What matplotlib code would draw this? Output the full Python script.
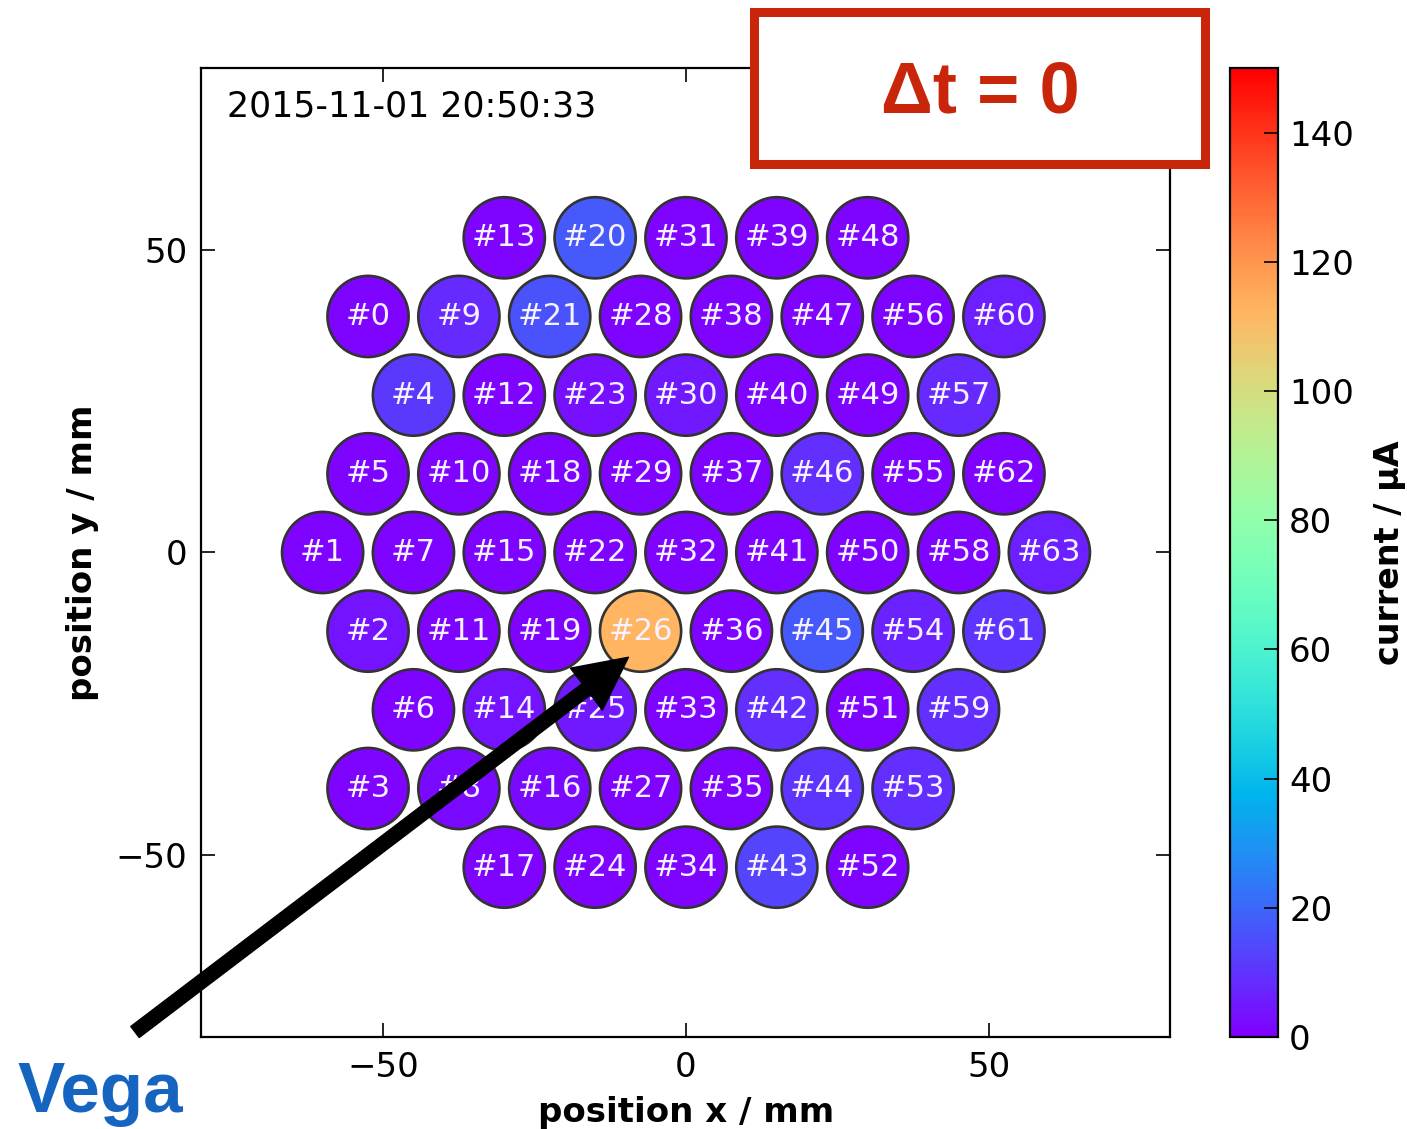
import numpy as np
import matplotlib
matplotlib.use('Agg')
import matplotlib.pyplot as plt
from matplotlib.patches import Circle, Rectangle
from matplotlib.collections import PatchCollection

# pixel ids per hexagon row, top row first
rows = [
    [13, 20, 31, 39, 48],
    [0, 9, 21, 28, 38, 47, 56, 60],
    [4, 12, 23, 30, 40, 49, 57],
    [5, 10, 18, 29, 37, 46, 55, 62],
    [1, 7, 15, 22, 32, 41, 50, 58, 63],
    [2, 11, 19, 26, 36, 45, 54, 61],
    [6, 14, 25, 33, 42, 51, 59],
    [3, 8, 16, 27, 35, 44, 53],
    [17, 24, 34, 43, 52],
]
row_shift = [-30, -52.5, -45, -52.5, -60, -52.5, -45, -52.5, -30]  # x of first pixel, mm

# anode current per pixel id 0..63, uA
current = [
    1, 1, 4, 1, 11, 1, 1, 1, 2, 8,
    1, 1, 1, 1, 4, 1, 2, 1, 1, 1,
    17, 16, 1, 3, 1, 5, 112, 1, 1, 1,
    5, 1, 1, 1, 1, 1, 1, 1, 1, 1,
    1, 1, 9, 13, 10, 17, 9, 1, 1, 1,
    1, 1, 1, 9, 7, 1, 1, 8, 1, 9,
    6, 10, 1, 6,
]

timestamp = '2015-11-01 20:50:33'
pitch = 15.0
r_pix = 6.7

fig = plt.figure(figsize=(14.07, 11.29), dpi=100)
ax = fig.add_axes([0.1428, 0.0815, 0.6895, 0.8583])
cax = fig.add_axes([0.8742, 0.0815, 0.0341, 0.8583])

ids, xs, ys = [], [], []
nrow = len(rows)
for i, row in enumerate(rows):
    y = (nrow // 2 - i) * pitch * np.sqrt(3) / 2
    for j, pid in enumerate(row):
        ids.append(pid)
        xs.append(row_shift[i] + j * pitch)
        ys.append(y)

circles = [Circle((x, y), r_pix) for x, y in zip(xs, ys)]
pc = PatchCollection(circles, cmap='rainbow', edgecolor='#333333', linewidth=1.9)
pc.set_array(np.array([current[p] for p in ids], dtype=float))
pc.set_clim(0, 150)
ax.add_collection(pc)

for pid, x, y in zip(ids, xs, ys):
    ax.text(x, y, '#%d' % pid, ha='center', va='center', color='#f6f2ff',
            fontsize=22)

ax.set_xlim(-80, 80)
ax.set_ylim(-80, 80)
ax.set_aspect('equal')
ax.set_xticks([-50, 0, 50])
ax.set_yticks([-50, 0, 50])
ax.tick_params(direction='in', length=10, width=1.2, top=True, right=True,
               labelsize=24.5, pad=10)
for s in ax.spines.values():
    s.set_linewidth(1.6)
ax.set_xlabel('position x / mm', fontsize=24.5, fontweight='bold', labelpad=9)
ax.set_ylabel('position y / mm', fontsize=24.5, fontweight='bold', labelpad=12)
ax.text(0.026, 0.96, timestamp, transform=ax.transAxes, ha='left', va='center',
        fontsize=25)

cb = fig.colorbar(pc, cax=cax)
cb.set_ticks(np.arange(0, 141, 20))
cb.outline.set_linewidth(1.6)
cax.tick_params(direction='in', length=10, width=1.2, labelsize=24.5, pad=8)
cb.set_label('current / μA', fontsize=24, fontweight='bold', labelpad=14)

# arrow to the star image
ax.annotate('', xy=(-9.5, -17.3), xycoords='data',
            xytext=(135, 97), textcoords='figure pixels',
            arrowprops=dict(facecolor='black', edgecolor='black', width=10,
                            headwidth=38, headlength=38, shrink=0),
            annotation_clip=False)

fig.text(0.0128, 0.015, 'Vega', color='#1565c0', fontsize=51,
         fontweight='bold', family=['Liberation Sans', 'DejaVu Sans'],
         ha='left', va='baseline')

box = Rectangle((0.5361, 0.8545), 0.3202, 0.1349, transform=fig.transFigure,
                facecolor='white', edgecolor='#c8250a', linewidth=6.5, zorder=10)
fig.patches.append(box)
fig.text(0.6965, 0.9176, 'Δt = 0', color='#c8250a', fontsize=52,
         fontweight='bold', family=['Liberation Sans', 'DejaVu Sans'],
         ha='center', va='center', zorder=11)

plt.savefig('out.png', dpi=100)
